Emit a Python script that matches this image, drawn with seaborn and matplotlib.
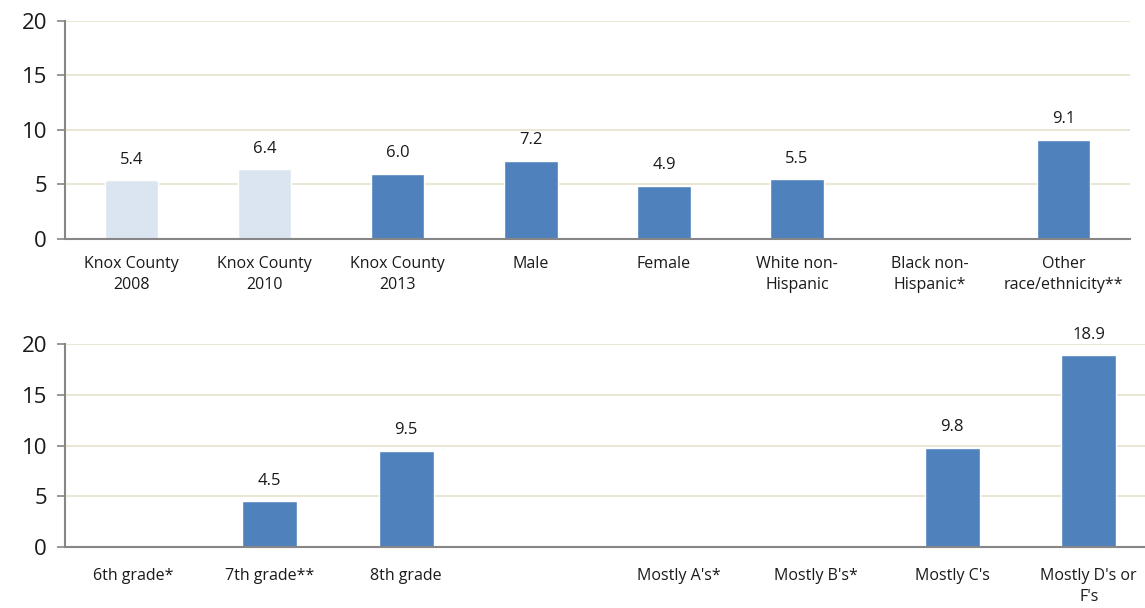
import numpy as np
import pandas as pd
import matplotlib
matplotlib.use("Agg")
import matplotlib.pyplot as plt
import seaborn as sns

# Data
top_labels = ["Knox County\n2008", "Knox County\n2010", "Knox County\n2013", "Male", "Female",
              "White non-\nHispanic", "Black non-\nHispanic*", "Other\nrace/ethnicity**"]
top_values = [5.4, 6.4, 6.0, 7.2, 4.9, 5.5, np.nan, 9.1]

bottom_labels = ["6th grade*", "7th grade**", "8th grade", " ", "Mostly A's*", "Mostly B's*",
                 "Mostly C's", "Mostly D's or\nF's"]
bottom_values = [np.nan, 4.5, 9.5, np.nan, np.nan, np.nan, 9.8, 18.9]

dark = "#4F81BD"
light = "#DBE5F1"
top_colors = [light, light] + [dark] * 6
bottom_colors = [dark] * 8

sns.set_style("white")
plt.rcParams["font.family"] = ["Open Sans", "DejaVu Sans"]

fig = plt.figure(figsize=(11.45, 6.08), dpi=100)
ax1 = fig.add_axes([0.0568, 0.6069, 0.930, 0.3586])
ax2 = fig.add_axes([0.0568, 0.1003, 0.9537, 0.3339])


def draw(ax, labels, values, colors, pad):
    df = pd.DataFrame({"cat": labels, "val": values})
    sns.barplot(data=df, x="cat", y="val", hue="cat", order=labels, hue_order=labels,
                palette=colors, legend=False, width=0.4, saturation=1, ax=ax)
    ax.set_xlim(-0.5, len(labels) - 0.5)
    ax.set_ylim(0, 20)
    ax.set_yticks([0, 5, 10, 15, 20])
    ax.set_xlabel("")
    ax.set_ylabel("")
    for c in ax.containers:
        ax.bar_label(c, fmt="%.1f", padding=9, fontsize=12, color="#1a1a1a")
    ax.grid(axis="y", color="#E8E4D0", linewidth=1.3)
    ax.set_axisbelow(True)
    for s in ["top", "right"]:
        ax.spines[s].set_visible(False)
    for s in ["left", "bottom"]:
        ax.spines[s].set_color("#868686")
        ax.spines[s].set_linewidth(1.5)
    ax.set_xticks(np.arange(-0.5, len(labels), 1.0), minor=True)
    ax.tick_params(axis="x", which="minor", length=5, color="#868686", width=1.2, direction="out")
    ax.tick_params(axis="x", which="major", length=0, pad=pad, labelsize=11.5, labelcolor="#1a1a1a")
    for t in ax.get_xticklabels():
        t.set_linespacing(1.45)
    ax.tick_params(axis="y", length=6, color="#868686", width=1.2, left=True, pad=7,
                   labelsize=16, labelcolor="#1a1a1a")


draw(ax1, top_labels, top_values, top_colors, 12)
draw(ax2, bottom_labels, bottom_values, bottom_colors, 15)

fig.savefig("out.png", dpi=100)
